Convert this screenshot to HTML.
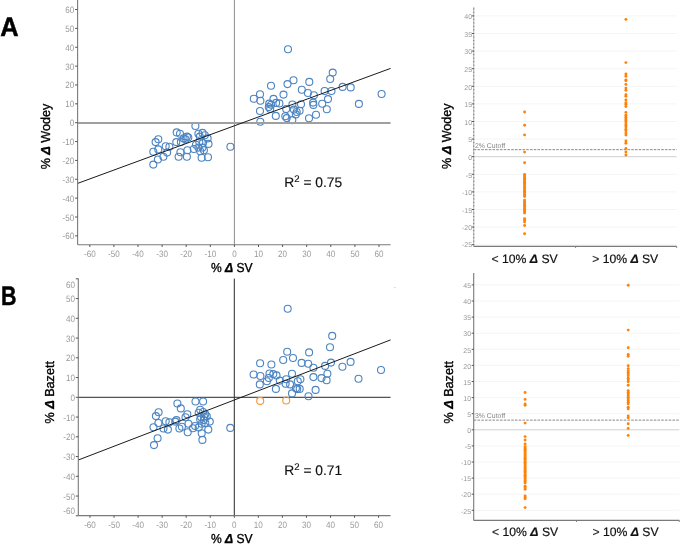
<!DOCTYPE html>
<html><head><meta charset="utf-8"><title>Figure</title>
<style>
html,body{margin:0;padding:0;background:#fff;}
body{width:681px;height:544px;overflow:hidden;}
svg{display:block;font-family:"Liberation Sans", sans-serif;will-change:transform;text-rendering:geometricPrecision;}
.tl{font-size:9.2px;fill:#999999;}
.st{font-size:7px;fill:#999999;}
.cut{font-size:6.9px;fill:#858585;}
.r2{font-size:13.8px;fill:#111;stroke:#111;stroke-width:0.15px;}
.lab{font-size:13px;fill:#000;stroke:#000;stroke-width:0.35px;}
.cat{font-size:12.2px;fill:#111;stroke:#111;stroke-width:0.18px;}
.d{font-weight:bold;font-style:italic;}
.big{font-size:26.8px;font-weight:bold;fill:#000;stroke:#000;stroke-width:0.5px;}
</style></head><body>
<svg width="681" height="544" viewBox="0 0 681 544">
<rect width="681" height="544" fill="#fff"/>
<text transform="translate(0.2,36.0) scale(0.95,1)" class="big">A</text>
<text transform="translate(1.0,305.2) scale(0.8,1)" class="big">B</text>
<line x1="234.4" y1="0" x2="234.4" y2="244.8" stroke="#8c8c8c" stroke-width="1"/>
<circle cx="158.3" cy="139.3" r="3.5" fill="none" stroke="#4c84c2" stroke-width="1.1"/>
<circle cx="155.6" cy="142.1" r="3.5" fill="none" stroke="#4c84c2" stroke-width="1.1"/>
<circle cx="153.3" cy="151.7" r="3.5" fill="none" stroke="#4c84c2" stroke-width="1.1"/>
<circle cx="158.3" cy="149.4" r="3.5" fill="none" stroke="#4c84c2" stroke-width="1.1"/>
<circle cx="165.7" cy="146.2" r="3.5" fill="none" stroke="#4c84c2" stroke-width="1.1"/>
<circle cx="169.4" cy="146.7" r="3.5" fill="none" stroke="#4c84c2" stroke-width="1.1"/>
<circle cx="167.1" cy="152.6" r="3.5" fill="none" stroke="#4c84c2" stroke-width="1.1"/>
<circle cx="163.4" cy="156.8" r="3.5" fill="none" stroke="#4c84c2" stroke-width="1.1"/>
<circle cx="157.9" cy="159.5" r="3.5" fill="none" stroke="#4c84c2" stroke-width="1.1"/>
<circle cx="153.3" cy="164.6" r="3.5" fill="none" stroke="#4c84c2" stroke-width="1.1"/>
<circle cx="176.7" cy="132.4" r="3.5" fill="none" stroke="#4c84c2" stroke-width="1.1"/>
<circle cx="180" cy="133.8" r="3.5" fill="none" stroke="#4c84c2" stroke-width="1.1"/>
<circle cx="176.3" cy="142.1" r="3.5" fill="none" stroke="#4c84c2" stroke-width="1.1"/>
<circle cx="180.4" cy="152.2" r="3.5" fill="none" stroke="#4c84c2" stroke-width="1.1"/>
<circle cx="178.6" cy="156.8" r="3.5" fill="none" stroke="#4c84c2" stroke-width="1.1"/>
<circle cx="183.6" cy="138.4" r="3.5" fill="none" stroke="#4c84c2" stroke-width="1.1"/>
<circle cx="195.4" cy="126" r="3.5" fill="none" stroke="#4c84c2" stroke-width="1.1"/>
<circle cx="186.9" cy="136.6" r="3.5" fill="none" stroke="#4c84c2" stroke-width="1.1"/>
<circle cx="188.3" cy="137.5" r="3.5" fill="none" stroke="#4c84c2" stroke-width="1.1"/>
<circle cx="185.5" cy="139.3" r="3.5" fill="none" stroke="#4c84c2" stroke-width="1.1"/>
<circle cx="180.9" cy="142.1" r="3.5" fill="none" stroke="#4c84c2" stroke-width="1.1"/>
<circle cx="187.4" cy="150.3" r="3.5" fill="none" stroke="#4c84c2" stroke-width="1.1"/>
<circle cx="186.9" cy="156.8" r="3.5" fill="none" stroke="#4c84c2" stroke-width="1.1"/>
<circle cx="193.8" cy="149" r="3.5" fill="none" stroke="#4c84c2" stroke-width="1.1"/>
<circle cx="198.4" cy="133.8" r="3.5" fill="none" stroke="#4c84c2" stroke-width="1.1"/>
<circle cx="202.5" cy="132.9" r="3.5" fill="none" stroke="#4c84c2" stroke-width="1.1"/>
<circle cx="204.8" cy="135.2" r="3.5" fill="none" stroke="#4c84c2" stroke-width="1.1"/>
<circle cx="199.8" cy="136.6" r="3.5" fill="none" stroke="#4c84c2" stroke-width="1.1"/>
<circle cx="207.6" cy="138.4" r="3.5" fill="none" stroke="#4c84c2" stroke-width="1.1"/>
<circle cx="199.3" cy="142.1" r="3.5" fill="none" stroke="#4c84c2" stroke-width="1.1"/>
<circle cx="203" cy="143" r="3.5" fill="none" stroke="#4c84c2" stroke-width="1.1"/>
<circle cx="208.5" cy="143.9" r="3.5" fill="none" stroke="#4c84c2" stroke-width="1.1"/>
<circle cx="198.4" cy="147.6" r="3.5" fill="none" stroke="#4c84c2" stroke-width="1.1"/>
<circle cx="202.5" cy="147.6" r="3.5" fill="none" stroke="#4c84c2" stroke-width="1.1"/>
<circle cx="200.2" cy="151.3" r="3.5" fill="none" stroke="#4c84c2" stroke-width="1.1"/>
<circle cx="203.9" cy="150.3" r="3.5" fill="none" stroke="#4c84c2" stroke-width="1.1"/>
<circle cx="201.6" cy="157.7" r="3.5" fill="none" stroke="#4c84c2" stroke-width="1.1"/>
<circle cx="208" cy="157.2" r="3.5" fill="none" stroke="#4c84c2" stroke-width="1.1"/>
<circle cx="196" cy="144.8" r="3.5" fill="none" stroke="#4c84c2" stroke-width="1.1"/>
<circle cx="230.4" cy="146.8" r="3.5" fill="none" stroke="#4c84c2" stroke-width="1.1"/>
<circle cx="288" cy="49.3" r="3.5" fill="none" stroke="#4c84c2" stroke-width="1.1"/>
<circle cx="332.7" cy="72.6" r="3.5" fill="none" stroke="#4c84c2" stroke-width="1.1"/>
<circle cx="330.2" cy="79" r="3.5" fill="none" stroke="#4c84c2" stroke-width="1.1"/>
<circle cx="293.5" cy="80.3" r="3.5" fill="none" stroke="#4c84c2" stroke-width="1.1"/>
<circle cx="287.5" cy="84.1" r="3.5" fill="none" stroke="#4c84c2" stroke-width="1.1"/>
<circle cx="309.3" cy="81.9" r="3.5" fill="none" stroke="#4c84c2" stroke-width="1.1"/>
<circle cx="271" cy="85.8" r="3.5" fill="none" stroke="#4c84c2" stroke-width="1.1"/>
<circle cx="301.8" cy="89.8" r="3.5" fill="none" stroke="#4c84c2" stroke-width="1.1"/>
<circle cx="307.9" cy="93" r="3.5" fill="none" stroke="#4c84c2" stroke-width="1.1"/>
<circle cx="313.9" cy="95.3" r="3.5" fill="none" stroke="#4c84c2" stroke-width="1.1"/>
<circle cx="324.6" cy="91" r="3.5" fill="none" stroke="#4c84c2" stroke-width="1.1"/>
<circle cx="331.5" cy="91" r="3.5" fill="none" stroke="#4c84c2" stroke-width="1.1"/>
<circle cx="342.6" cy="86.9" r="3.5" fill="none" stroke="#4c84c2" stroke-width="1.1"/>
<circle cx="350.7" cy="87.4" r="3.5" fill="none" stroke="#4c84c2" stroke-width="1.1"/>
<circle cx="381.6" cy="94" r="3.5" fill="none" stroke="#4c84c2" stroke-width="1.1"/>
<circle cx="358.9" cy="103.9" r="3.5" fill="none" stroke="#4c84c2" stroke-width="1.1"/>
<circle cx="260" cy="94.2" r="3.5" fill="none" stroke="#4c84c2" stroke-width="1.1"/>
<circle cx="253.8" cy="98.8" r="3.5" fill="none" stroke="#4c84c2" stroke-width="1.1"/>
<circle cx="260.4" cy="100.8" r="3.5" fill="none" stroke="#4c84c2" stroke-width="1.1"/>
<circle cx="283.5" cy="94.6" r="3.5" fill="none" stroke="#4c84c2" stroke-width="1.1"/>
<circle cx="273.5" cy="98.9" r="3.5" fill="none" stroke="#4c84c2" stroke-width="1.1"/>
<circle cx="269.2" cy="103.6" r="3.5" fill="none" stroke="#4c84c2" stroke-width="1.1"/>
<circle cx="271.1" cy="104.8" r="3.5" fill="none" stroke="#4c84c2" stroke-width="1.1"/>
<circle cx="268.8" cy="107.1" r="3.5" fill="none" stroke="#4c84c2" stroke-width="1.1"/>
<circle cx="270.2" cy="108.9" r="3.5" fill="none" stroke="#4c84c2" stroke-width="1.1"/>
<circle cx="276.1" cy="102.9" r="3.5" fill="none" stroke="#4c84c2" stroke-width="1.1"/>
<circle cx="279.4" cy="103.4" r="3.5" fill="none" stroke="#4c84c2" stroke-width="1.1"/>
<circle cx="260" cy="111" r="3.5" fill="none" stroke="#4c84c2" stroke-width="1.1"/>
<circle cx="275.8" cy="115.9" r="3.5" fill="none" stroke="#4c84c2" stroke-width="1.1"/>
<circle cx="260.3" cy="121.8" r="3.5" fill="none" stroke="#4c84c2" stroke-width="1.1"/>
<circle cx="286.2" cy="109.1" r="3.5" fill="none" stroke="#4c84c2" stroke-width="1.1"/>
<circle cx="293.9" cy="109.6" r="3.5" fill="none" stroke="#4c84c2" stroke-width="1.1"/>
<circle cx="292.4" cy="104.5" r="3.5" fill="none" stroke="#4c84c2" stroke-width="1.1"/>
<circle cx="301" cy="104.3" r="3.5" fill="none" stroke="#4c84c2" stroke-width="1.1"/>
<circle cx="299.6" cy="110.7" r="3.5" fill="none" stroke="#4c84c2" stroke-width="1.1"/>
<circle cx="296.7" cy="112" r="3.5" fill="none" stroke="#4c84c2" stroke-width="1.1"/>
<circle cx="285.3" cy="116.3" r="3.5" fill="none" stroke="#4c84c2" stroke-width="1.1"/>
<circle cx="286.7" cy="118.1" r="3.5" fill="none" stroke="#4c84c2" stroke-width="1.1"/>
<circle cx="292.3" cy="120.1" r="3.5" fill="none" stroke="#4c84c2" stroke-width="1.1"/>
<circle cx="295.8" cy="114.4" r="3.5" fill="none" stroke="#4c84c2" stroke-width="1.1"/>
<circle cx="313.1" cy="102.6" r="3.5" fill="none" stroke="#4c84c2" stroke-width="1.1"/>
<circle cx="313.4" cy="104.9" r="3.5" fill="none" stroke="#4c84c2" stroke-width="1.1"/>
<circle cx="322.2" cy="103.7" r="3.5" fill="none" stroke="#4c84c2" stroke-width="1.1"/>
<circle cx="328" cy="99.1" r="3.5" fill="none" stroke="#4c84c2" stroke-width="1.1"/>
<circle cx="326.8" cy="109.2" r="3.5" fill="none" stroke="#4c84c2" stroke-width="1.1"/>
<circle cx="316" cy="114.7" r="3.5" fill="none" stroke="#4c84c2" stroke-width="1.1"/>
<circle cx="309" cy="118.3" r="3.5" fill="none" stroke="#4c84c2" stroke-width="1.1"/>
<line x1="77.6" y1="122.95" x2="390.6" y2="122.95" stroke="#a0a0a0" stroke-width="2"/>
<line x1="77.6" y1="183.4" x2="390.6" y2="68.4" stroke="#1a1a1a" stroke-width="1"/>
<line x1="77.6" y1="0" x2="77.6" y2="244.8" stroke="#7a7a7a" stroke-width="1.1"/>
<line x1="77.6" y1="244.8" x2="390.6" y2="244.8" stroke="#7a7a7a" stroke-width="1.1"/>
<line x1="75.1" y1="235.86" x2="77.6" y2="235.86" stroke="#555" stroke-width="1"/>
<text transform="translate(74.3,239.36) scale(0.88,1)" text-anchor="end" class="tl">-60</text>
<line x1="75.1" y1="217" x2="77.6" y2="217" stroke="#555" stroke-width="1"/>
<text transform="translate(74.3,220.5) scale(0.88,1)" text-anchor="end" class="tl">-50</text>
<line x1="75.1" y1="198.14" x2="77.6" y2="198.14" stroke="#555" stroke-width="1"/>
<text transform="translate(74.3,201.64) scale(0.88,1)" text-anchor="end" class="tl">-40</text>
<line x1="75.1" y1="179.28" x2="77.6" y2="179.28" stroke="#555" stroke-width="1"/>
<text transform="translate(74.3,182.78) scale(0.88,1)" text-anchor="end" class="tl">-30</text>
<line x1="75.1" y1="160.42" x2="77.6" y2="160.42" stroke="#555" stroke-width="1"/>
<text transform="translate(74.3,163.92) scale(0.88,1)" text-anchor="end" class="tl">-20</text>
<line x1="75.1" y1="141.56" x2="77.6" y2="141.56" stroke="#555" stroke-width="1"/>
<text transform="translate(74.3,145.06) scale(0.88,1)" text-anchor="end" class="tl">-10</text>
<line x1="75.1" y1="122.7" x2="77.6" y2="122.7" stroke="#555" stroke-width="1"/>
<text transform="translate(74.3,126.2) scale(0.88,1)" text-anchor="end" class="tl">0</text>
<line x1="75.1" y1="103.84" x2="77.6" y2="103.84" stroke="#555" stroke-width="1"/>
<text transform="translate(74.3,107.34) scale(0.88,1)" text-anchor="end" class="tl">10</text>
<line x1="75.1" y1="84.98" x2="77.6" y2="84.98" stroke="#555" stroke-width="1"/>
<text transform="translate(74.3,88.48) scale(0.88,1)" text-anchor="end" class="tl">20</text>
<line x1="75.1" y1="66.12" x2="77.6" y2="66.12" stroke="#555" stroke-width="1"/>
<text transform="translate(74.3,69.62) scale(0.88,1)" text-anchor="end" class="tl">30</text>
<line x1="75.1" y1="47.26" x2="77.6" y2="47.26" stroke="#555" stroke-width="1"/>
<text transform="translate(74.3,50.76) scale(0.88,1)" text-anchor="end" class="tl">40</text>
<line x1="75.1" y1="28.4" x2="77.6" y2="28.4" stroke="#555" stroke-width="1"/>
<text transform="translate(74.3,31.9) scale(0.88,1)" text-anchor="end" class="tl">50</text>
<line x1="75.1" y1="9.54" x2="77.6" y2="9.54" stroke="#555" stroke-width="1"/>
<text transform="translate(74.3,13.04) scale(0.88,1)" text-anchor="end" class="tl">60</text>
<line x1="89.8" y1="244.8" x2="89.8" y2="247.0" stroke="#555" stroke-width="1"/>
<text transform="translate(89.8,257) scale(0.88,1)" text-anchor="middle" class="tl">-60</text>
<line x1="113.9" y1="244.8" x2="113.9" y2="247.0" stroke="#555" stroke-width="1"/>
<text transform="translate(113.9,257) scale(0.88,1)" text-anchor="middle" class="tl">-50</text>
<line x1="138" y1="244.8" x2="138" y2="247.0" stroke="#555" stroke-width="1"/>
<text transform="translate(138,257) scale(0.88,1)" text-anchor="middle" class="tl">-40</text>
<line x1="162.1" y1="244.8" x2="162.1" y2="247.0" stroke="#555" stroke-width="1"/>
<text transform="translate(162.1,257) scale(0.88,1)" text-anchor="middle" class="tl">-30</text>
<line x1="186.2" y1="244.8" x2="186.2" y2="247.0" stroke="#555" stroke-width="1"/>
<text transform="translate(186.2,257) scale(0.88,1)" text-anchor="middle" class="tl">-20</text>
<line x1="210.3" y1="244.8" x2="210.3" y2="247.0" stroke="#555" stroke-width="1"/>
<text transform="translate(210.3,257) scale(0.88,1)" text-anchor="middle" class="tl">-10</text>
<line x1="234.4" y1="244.8" x2="234.4" y2="247.0" stroke="#555" stroke-width="1"/>
<text transform="translate(234.4,257) scale(0.88,1)" text-anchor="middle" class="tl">0</text>
<line x1="258.5" y1="244.8" x2="258.5" y2="247.0" stroke="#555" stroke-width="1"/>
<text transform="translate(258.5,257) scale(0.88,1)" text-anchor="middle" class="tl">10</text>
<line x1="282.6" y1="244.8" x2="282.6" y2="247.0" stroke="#555" stroke-width="1"/>
<text transform="translate(282.6,257) scale(0.88,1)" text-anchor="middle" class="tl">20</text>
<line x1="306.7" y1="244.8" x2="306.7" y2="247.0" stroke="#555" stroke-width="1"/>
<text transform="translate(306.7,257) scale(0.88,1)" text-anchor="middle" class="tl">30</text>
<line x1="330.8" y1="244.8" x2="330.8" y2="247.0" stroke="#555" stroke-width="1"/>
<text transform="translate(330.8,257) scale(0.88,1)" text-anchor="middle" class="tl">40</text>
<line x1="354.9" y1="244.8" x2="354.9" y2="247.0" stroke="#555" stroke-width="1"/>
<text transform="translate(354.9,257) scale(0.88,1)" text-anchor="middle" class="tl">50</text>
<line x1="379" y1="244.8" x2="379" y2="247.0" stroke="#555" stroke-width="1"/>
<text transform="translate(379,257) scale(0.88,1)" text-anchor="middle" class="tl">60</text>
<text x="284.3" y="186.8" class="r2">R<tspan font-size="9.6" dy="-5.2">2</tspan><tspan dy="5.2"> = 0.75</tspan></text>
<text transform="translate(231.8,271.6) scale(0.93,1)" text-anchor="middle" class="lab">% <tspan class="d">&#916;</tspan> SV</text>
<text transform="translate(50.3,136.5) rotate(-90) scale(0.97,1)" text-anchor="middle" class="lab">% <tspan class="d">&#916;</tspan> Wodey</text>
<line x1="78.3" y1="397.3" x2="390.6" y2="397.3" stroke="#2a2a2a" stroke-width="1"/>
<line x1="234.3" y1="278.6" x2="234.3" y2="515.6" stroke="#2a2a2a" stroke-width="1"/>
<circle cx="177.4" cy="403.5" r="3.5" fill="none" stroke="#4c84c2" stroke-width="1.1"/>
<circle cx="180.8" cy="408.4" r="3.5" fill="none" stroke="#4c84c2" stroke-width="1.1"/>
<circle cx="195.5" cy="401.5" r="3.5" fill="none" stroke="#4c84c2" stroke-width="1.1"/>
<circle cx="203.1" cy="401.5" r="3.5" fill="none" stroke="#4c84c2" stroke-width="1.1"/>
<circle cx="158.6" cy="412.3" r="3.5" fill="none" stroke="#4c84c2" stroke-width="1.1"/>
<circle cx="155.9" cy="416.1" r="3.5" fill="none" stroke="#4c84c2" stroke-width="1.1"/>
<circle cx="153.5" cy="427.2" r="3.5" fill="none" stroke="#4c84c2" stroke-width="1.1"/>
<circle cx="158.4" cy="423" r="3.5" fill="none" stroke="#4c84c2" stroke-width="1.1"/>
<circle cx="165.7" cy="421.3" r="3.5" fill="none" stroke="#4c84c2" stroke-width="1.1"/>
<circle cx="169.4" cy="422.3" r="3.5" fill="none" stroke="#4c84c2" stroke-width="1.1"/>
<circle cx="163.5" cy="428.5" r="3.5" fill="none" stroke="#4c84c2" stroke-width="1.1"/>
<circle cx="167.9" cy="429.6" r="3.5" fill="none" stroke="#4c84c2" stroke-width="1.1"/>
<circle cx="176.4" cy="420.1" r="3.5" fill="none" stroke="#4c84c2" stroke-width="1.1"/>
<circle cx="179.4" cy="428.5" r="3.5" fill="none" stroke="#4c84c2" stroke-width="1.1"/>
<circle cx="187.3" cy="414.2" r="3.5" fill="none" stroke="#4c84c2" stroke-width="1.1"/>
<circle cx="185.5" cy="417.2" r="3.5" fill="none" stroke="#4c84c2" stroke-width="1.1"/>
<circle cx="188.5" cy="423.8" r="3.5" fill="none" stroke="#4c84c2" stroke-width="1.1"/>
<circle cx="187.7" cy="432.3" r="3.5" fill="none" stroke="#4c84c2" stroke-width="1.1"/>
<circle cx="195.1" cy="426" r="3.5" fill="none" stroke="#4c84c2" stroke-width="1.1"/>
<circle cx="198.7" cy="427.4" r="3.5" fill="none" stroke="#4c84c2" stroke-width="1.1"/>
<circle cx="200.2" cy="409.8" r="3.5" fill="none" stroke="#4c84c2" stroke-width="1.1"/>
<circle cx="198.7" cy="412.8" r="3.5" fill="none" stroke="#4c84c2" stroke-width="1.1"/>
<circle cx="203.1" cy="412" r="3.5" fill="none" stroke="#4c84c2" stroke-width="1.1"/>
<circle cx="205.3" cy="414.2" r="3.5" fill="none" stroke="#4c84c2" stroke-width="1.1"/>
<circle cx="200.2" cy="419.4" r="3.5" fill="none" stroke="#4c84c2" stroke-width="1.1"/>
<circle cx="203.9" cy="420.1" r="3.5" fill="none" stroke="#4c84c2" stroke-width="1.1"/>
<circle cx="206.8" cy="416.4" r="3.5" fill="none" stroke="#4c84c2" stroke-width="1.1"/>
<circle cx="209.8" cy="421.6" r="3.5" fill="none" stroke="#4c84c2" stroke-width="1.1"/>
<circle cx="201.7" cy="423.8" r="3.5" fill="none" stroke="#4c84c2" stroke-width="1.1"/>
<circle cx="205.3" cy="423" r="3.5" fill="none" stroke="#4c84c2" stroke-width="1.1"/>
<circle cx="208.3" cy="429.6" r="3.5" fill="none" stroke="#4c84c2" stroke-width="1.1"/>
<circle cx="201.7" cy="433.3" r="3.5" fill="none" stroke="#4c84c2" stroke-width="1.1"/>
<circle cx="202.4" cy="439.9" r="3.5" fill="none" stroke="#4c84c2" stroke-width="1.1"/>
<circle cx="230.3" cy="427.9" r="3.5" fill="none" stroke="#4c84c2" stroke-width="1.1"/>
<circle cx="157.6" cy="438.2" r="3.5" fill="none" stroke="#4c84c2" stroke-width="1.1"/>
<circle cx="154" cy="445.1" r="3.5" fill="none" stroke="#4c84c2" stroke-width="1.1"/>
<circle cx="175.2" cy="421.6" r="3.5" fill="none" stroke="#4c84c2" stroke-width="1.1"/>
<circle cx="181.9" cy="426.7" r="3.5" fill="none" stroke="#4c84c2" stroke-width="1.1"/>
<circle cx="192.9" cy="428.2" r="3.5" fill="none" stroke="#4c84c2" stroke-width="1.1"/>
<circle cx="201" cy="417" r="3.5" fill="none" stroke="#4c84c2" stroke-width="1.1"/>
<circle cx="204" cy="416.5" r="3.5" fill="none" stroke="#4c84c2" stroke-width="1.1"/>
<circle cx="287.7" cy="308.8" r="3.5" fill="none" stroke="#4c84c2" stroke-width="1.1"/>
<circle cx="287.2" cy="351.8" r="3.5" fill="none" stroke="#4c84c2" stroke-width="1.1"/>
<circle cx="293" cy="358" r="3.5" fill="none" stroke="#4c84c2" stroke-width="1.1"/>
<circle cx="283.2" cy="360" r="3.5" fill="none" stroke="#4c84c2" stroke-width="1.1"/>
<circle cx="301.6" cy="362.9" r="3.5" fill="none" stroke="#4c84c2" stroke-width="1.1"/>
<circle cx="260.1" cy="363.2" r="3.5" fill="none" stroke="#4c84c2" stroke-width="1.1"/>
<circle cx="271.4" cy="364.5" r="3.5" fill="none" stroke="#4c84c2" stroke-width="1.1"/>
<circle cx="253.6" cy="374.5" r="3.5" fill="none" stroke="#4c84c2" stroke-width="1.1"/>
<circle cx="260.4" cy="376" r="3.5" fill="none" stroke="#4c84c2" stroke-width="1.1"/>
<circle cx="269.5" cy="373.5" r="3.5" fill="none" stroke="#4c84c2" stroke-width="1.1"/>
<circle cx="273.3" cy="374.1" r="3.5" fill="none" stroke="#4c84c2" stroke-width="1.1"/>
<circle cx="276.5" cy="375.4" r="3.5" fill="none" stroke="#4c84c2" stroke-width="1.1"/>
<circle cx="268.8" cy="378" r="3.5" fill="none" stroke="#4c84c2" stroke-width="1.1"/>
<circle cx="266.9" cy="381.2" r="3.5" fill="none" stroke="#4c84c2" stroke-width="1.1"/>
<circle cx="259.8" cy="384.4" r="3.5" fill="none" stroke="#4c84c2" stroke-width="1.1"/>
<circle cx="279.8" cy="380.6" r="3.5" fill="none" stroke="#4c84c2" stroke-width="1.1"/>
<circle cx="286.2" cy="379.3" r="3.5" fill="none" stroke="#4c84c2" stroke-width="1.1"/>
<circle cx="285.6" cy="383.8" r="3.5" fill="none" stroke="#4c84c2" stroke-width="1.1"/>
<circle cx="292" cy="373.7" r="3.5" fill="none" stroke="#4c84c2" stroke-width="1.1"/>
<circle cx="290.1" cy="384.4" r="3.5" fill="none" stroke="#4c84c2" stroke-width="1.1"/>
<circle cx="275.9" cy="388.9" r="3.5" fill="none" stroke="#4c84c2" stroke-width="1.1"/>
<circle cx="297.8" cy="381.2" r="3.5" fill="none" stroke="#4c84c2" stroke-width="1.1"/>
<circle cx="300.4" cy="379.3" r="3.5" fill="none" stroke="#4c84c2" stroke-width="1.1"/>
<circle cx="295.9" cy="388.3" r="3.5" fill="none" stroke="#4c84c2" stroke-width="1.1"/>
<circle cx="299.7" cy="388.9" r="3.5" fill="none" stroke="#4c84c2" stroke-width="1.1"/>
<circle cx="292" cy="393.4" r="3.5" fill="none" stroke="#4c84c2" stroke-width="1.1"/>
<circle cx="332.2" cy="335.9" r="3.5" fill="none" stroke="#4c84c2" stroke-width="1.1"/>
<circle cx="330" cy="347.2" r="3.5" fill="none" stroke="#4c84c2" stroke-width="1.1"/>
<circle cx="309.1" cy="352.4" r="3.5" fill="none" stroke="#4c84c2" stroke-width="1.1"/>
<circle cx="308.2" cy="363.7" r="3.5" fill="none" stroke="#4c84c2" stroke-width="1.1"/>
<circle cx="313.4" cy="367.8" r="3.5" fill="none" stroke="#4c84c2" stroke-width="1.1"/>
<circle cx="325.1" cy="365.9" r="3.5" fill="none" stroke="#4c84c2" stroke-width="1.1"/>
<circle cx="331" cy="362.6" r="3.5" fill="none" stroke="#4c84c2" stroke-width="1.1"/>
<circle cx="342.4" cy="366.8" r="3.5" fill="none" stroke="#4c84c2" stroke-width="1.1"/>
<circle cx="350.6" cy="361.9" r="3.5" fill="none" stroke="#4c84c2" stroke-width="1.1"/>
<circle cx="381" cy="370" r="3.5" fill="none" stroke="#4c84c2" stroke-width="1.1"/>
<circle cx="327.4" cy="373.7" r="3.5" fill="none" stroke="#4c84c2" stroke-width="1.1"/>
<circle cx="321.5" cy="378.1" r="3.5" fill="none" stroke="#4c84c2" stroke-width="1.1"/>
<circle cx="326.6" cy="380.3" r="3.5" fill="none" stroke="#4c84c2" stroke-width="1.1"/>
<circle cx="313.4" cy="377.1" r="3.5" fill="none" stroke="#4c84c2" stroke-width="1.1"/>
<circle cx="358.5" cy="378.8" r="3.5" fill="none" stroke="#4c84c2" stroke-width="1.1"/>
<circle cx="315.6" cy="389.9" r="3.5" fill="none" stroke="#4c84c2" stroke-width="1.1"/>
<circle cx="308.5" cy="396.2" r="3.5" fill="none" stroke="#4c84c2" stroke-width="1.1"/>
<circle cx="297.2" cy="389.1" r="3.5" fill="none" stroke="#4c84c2" stroke-width="1.1"/>
<circle cx="260.2" cy="400.9" r="3.5" fill="none" stroke="#f5963a" stroke-width="1.1"/>
<circle cx="286.2" cy="400.5" r="3.5" fill="none" stroke="#f5963a" stroke-width="1.1"/>
<line x1="78.3" y1="460.0" x2="390.6" y2="339.9" stroke="#1a1a1a" stroke-width="1"/>
<line x1="78.3" y1="278.6" x2="78.3" y2="515.6" stroke="#7a7a7a" stroke-width="1.1"/>
<line x1="78.3" y1="515.6" x2="390.6" y2="515.6" stroke="#7a7a7a" stroke-width="1.1"/>
<line x1="75.8" y1="515.8" x2="78.3" y2="515.8" stroke="#555" stroke-width="1"/>
<text transform="translate(75,514.3) scale(0.88,1)" text-anchor="end" class="tl">-60</text>
<line x1="75.8" y1="496.05" x2="78.3" y2="496.05" stroke="#555" stroke-width="1"/>
<text transform="translate(75,499.55) scale(0.88,1)" text-anchor="end" class="tl">-50</text>
<line x1="75.8" y1="476.3" x2="78.3" y2="476.3" stroke="#555" stroke-width="1"/>
<text transform="translate(75,479.8) scale(0.88,1)" text-anchor="end" class="tl">-40</text>
<line x1="75.8" y1="456.55" x2="78.3" y2="456.55" stroke="#555" stroke-width="1"/>
<text transform="translate(75,460.05) scale(0.88,1)" text-anchor="end" class="tl">-30</text>
<line x1="75.8" y1="436.8" x2="78.3" y2="436.8" stroke="#555" stroke-width="1"/>
<text transform="translate(75,440.3) scale(0.88,1)" text-anchor="end" class="tl">-20</text>
<line x1="75.8" y1="417.05" x2="78.3" y2="417.05" stroke="#555" stroke-width="1"/>
<text transform="translate(75,420.55) scale(0.88,1)" text-anchor="end" class="tl">-10</text>
<line x1="75.8" y1="397.3" x2="78.3" y2="397.3" stroke="#555" stroke-width="1"/>
<text transform="translate(75,400.8) scale(0.88,1)" text-anchor="end" class="tl">0</text>
<line x1="75.8" y1="377.55" x2="78.3" y2="377.55" stroke="#555" stroke-width="1"/>
<text transform="translate(75,381.05) scale(0.88,1)" text-anchor="end" class="tl">10</text>
<line x1="75.8" y1="357.8" x2="78.3" y2="357.8" stroke="#555" stroke-width="1"/>
<text transform="translate(75,361.3) scale(0.88,1)" text-anchor="end" class="tl">20</text>
<line x1="75.8" y1="338.05" x2="78.3" y2="338.05" stroke="#555" stroke-width="1"/>
<text transform="translate(75,341.55) scale(0.88,1)" text-anchor="end" class="tl">30</text>
<line x1="75.8" y1="318.3" x2="78.3" y2="318.3" stroke="#555" stroke-width="1"/>
<text transform="translate(75,321.8) scale(0.88,1)" text-anchor="end" class="tl">40</text>
<line x1="75.8" y1="298.55" x2="78.3" y2="298.55" stroke="#555" stroke-width="1"/>
<text transform="translate(75,302.05) scale(0.88,1)" text-anchor="end" class="tl">50</text>
<line x1="75.8" y1="278.8" x2="78.3" y2="278.8" stroke="#555" stroke-width="1"/>
<text transform="translate(75,288.2) scale(0.88,1)" text-anchor="end" class="tl">60</text>
<line x1="90" y1="515.6" x2="90" y2="517.8000000000001" stroke="#555" stroke-width="1"/>
<text transform="translate(90,527.6) scale(0.88,1)" text-anchor="middle" class="tl">-60</text>
<line x1="114.05" y1="515.6" x2="114.05" y2="517.8000000000001" stroke="#555" stroke-width="1"/>
<text transform="translate(114.05,527.6) scale(0.88,1)" text-anchor="middle" class="tl">-50</text>
<line x1="138.1" y1="515.6" x2="138.1" y2="517.8000000000001" stroke="#555" stroke-width="1"/>
<text transform="translate(138.1,527.6) scale(0.88,1)" text-anchor="middle" class="tl">-40</text>
<line x1="162.15" y1="515.6" x2="162.15" y2="517.8000000000001" stroke="#555" stroke-width="1"/>
<text transform="translate(162.15,527.6) scale(0.88,1)" text-anchor="middle" class="tl">-30</text>
<line x1="186.2" y1="515.6" x2="186.2" y2="517.8000000000001" stroke="#555" stroke-width="1"/>
<text transform="translate(186.2,527.6) scale(0.88,1)" text-anchor="middle" class="tl">-20</text>
<line x1="210.25" y1="515.6" x2="210.25" y2="517.8000000000001" stroke="#555" stroke-width="1"/>
<text transform="translate(210.25,527.6) scale(0.88,1)" text-anchor="middle" class="tl">-10</text>
<line x1="234.3" y1="515.6" x2="234.3" y2="517.8000000000001" stroke="#555" stroke-width="1"/>
<text transform="translate(234.3,527.6) scale(0.88,1)" text-anchor="middle" class="tl">0</text>
<line x1="258.35" y1="515.6" x2="258.35" y2="517.8000000000001" stroke="#555" stroke-width="1"/>
<text transform="translate(258.35,527.6) scale(0.88,1)" text-anchor="middle" class="tl">10</text>
<line x1="282.4" y1="515.6" x2="282.4" y2="517.8000000000001" stroke="#555" stroke-width="1"/>
<text transform="translate(282.4,527.6) scale(0.88,1)" text-anchor="middle" class="tl">20</text>
<line x1="306.45" y1="515.6" x2="306.45" y2="517.8000000000001" stroke="#555" stroke-width="1"/>
<text transform="translate(306.45,527.6) scale(0.88,1)" text-anchor="middle" class="tl">30</text>
<line x1="330.5" y1="515.6" x2="330.5" y2="517.8000000000001" stroke="#555" stroke-width="1"/>
<text transform="translate(330.5,527.6) scale(0.88,1)" text-anchor="middle" class="tl">40</text>
<line x1="354.55" y1="515.6" x2="354.55" y2="517.8000000000001" stroke="#555" stroke-width="1"/>
<text transform="translate(354.55,527.6) scale(0.88,1)" text-anchor="middle" class="tl">50</text>
<line x1="378.6" y1="515.6" x2="378.6" y2="517.8000000000001" stroke="#555" stroke-width="1"/>
<text transform="translate(378.6,527.6) scale(0.88,1)" text-anchor="middle" class="tl">60</text>
<text x="284.3" y="475.1" class="r2">R<tspan font-size="9.6" dy="-5.2">2</tspan><tspan dy="5.2"> = 0.71</tspan></text>
<text transform="translate(231.8,542.7) scale(0.93,1)" text-anchor="middle" class="lab">% <tspan class="d">&#916;</tspan> SV</text>
<text transform="translate(53.6,392.3) rotate(-90) scale(0.97,1)" text-anchor="middle" class="lab">% <tspan class="d">&#916;</tspan> Bazett</text>
<line x1="473.7" y1="244.7" x2="676.7" y2="244.7" stroke="#f5f5f5" stroke-width="1"/>
<line x1="473.7" y1="227.1" x2="676.7" y2="227.1" stroke="#f5f5f5" stroke-width="1"/>
<line x1="473.7" y1="209.5" x2="676.7" y2="209.5" stroke="#f5f5f5" stroke-width="1"/>
<line x1="473.7" y1="191.9" x2="676.7" y2="191.9" stroke="#f5f5f5" stroke-width="1"/>
<line x1="473.7" y1="174.3" x2="676.7" y2="174.3" stroke="#f5f5f5" stroke-width="1"/>
<line x1="473.7" y1="156.7" x2="676.7" y2="156.7" stroke="#d0d0d0" stroke-width="1"/>
<line x1="473.7" y1="139.1" x2="676.7" y2="139.1" stroke="#f5f5f5" stroke-width="1"/>
<line x1="473.7" y1="121.5" x2="676.7" y2="121.5" stroke="#f5f5f5" stroke-width="1"/>
<line x1="473.7" y1="103.9" x2="676.7" y2="103.9" stroke="#f5f5f5" stroke-width="1"/>
<line x1="473.7" y1="86.3" x2="676.7" y2="86.3" stroke="#f5f5f5" stroke-width="1"/>
<line x1="473.7" y1="68.7" x2="676.7" y2="68.7" stroke="#f5f5f5" stroke-width="1"/>
<line x1="473.7" y1="51.1" x2="676.7" y2="51.1" stroke="#f5f5f5" stroke-width="1"/>
<line x1="473.7" y1="33.5" x2="676.7" y2="33.5" stroke="#f5f5f5" stroke-width="1"/>
<line x1="473.7" y1="15.9" x2="676.7" y2="15.9" stroke="#f5f5f5" stroke-width="1"/>
<line x1="473.7" y1="149.66" x2="676.7" y2="149.66" stroke="#8a8a8a" stroke-width="1" stroke-dasharray="2.6,1.15"/>
<text x="475.0" y="147.56" class="cut">2% Cutoff</text>
<line x1="473.7" y1="7" x2="473.7" y2="246.4" stroke="#c4c4c4" stroke-width="1.3"/>
<line x1="473.09999999999997" y1="244.7" x2="474.3" y2="244.7" stroke="#666" stroke-width="0.8"/>
<line x1="473.09999999999997" y1="241.18" x2="474.3" y2="241.18" stroke="#666" stroke-width="0.8"/>
<line x1="473.09999999999997" y1="237.66" x2="474.3" y2="237.66" stroke="#666" stroke-width="0.8"/>
<line x1="473.09999999999997" y1="234.14" x2="474.3" y2="234.14" stroke="#666" stroke-width="0.8"/>
<line x1="473.09999999999997" y1="230.62" x2="474.3" y2="230.62" stroke="#666" stroke-width="0.8"/>
<line x1="473.09999999999997" y1="227.1" x2="474.3" y2="227.1" stroke="#666" stroke-width="0.8"/>
<line x1="473.09999999999997" y1="223.58" x2="474.3" y2="223.58" stroke="#666" stroke-width="0.8"/>
<line x1="473.09999999999997" y1="220.06" x2="474.3" y2="220.06" stroke="#666" stroke-width="0.8"/>
<line x1="473.09999999999997" y1="216.54" x2="474.3" y2="216.54" stroke="#666" stroke-width="0.8"/>
<line x1="473.09999999999997" y1="213.02" x2="474.3" y2="213.02" stroke="#666" stroke-width="0.8"/>
<line x1="473.09999999999997" y1="209.5" x2="474.3" y2="209.5" stroke="#666" stroke-width="0.8"/>
<line x1="473.09999999999997" y1="205.98" x2="474.3" y2="205.98" stroke="#666" stroke-width="0.8"/>
<line x1="473.09999999999997" y1="202.46" x2="474.3" y2="202.46" stroke="#666" stroke-width="0.8"/>
<line x1="473.09999999999997" y1="198.94" x2="474.3" y2="198.94" stroke="#666" stroke-width="0.8"/>
<line x1="473.09999999999997" y1="195.42" x2="474.3" y2="195.42" stroke="#666" stroke-width="0.8"/>
<line x1="473.09999999999997" y1="191.9" x2="474.3" y2="191.9" stroke="#666" stroke-width="0.8"/>
<line x1="473.09999999999997" y1="188.38" x2="474.3" y2="188.38" stroke="#666" stroke-width="0.8"/>
<line x1="473.09999999999997" y1="184.86" x2="474.3" y2="184.86" stroke="#666" stroke-width="0.8"/>
<line x1="473.09999999999997" y1="181.34" x2="474.3" y2="181.34" stroke="#666" stroke-width="0.8"/>
<line x1="473.09999999999997" y1="177.82" x2="474.3" y2="177.82" stroke="#666" stroke-width="0.8"/>
<line x1="473.09999999999997" y1="174.3" x2="474.3" y2="174.3" stroke="#666" stroke-width="0.8"/>
<line x1="473.09999999999997" y1="170.78" x2="474.3" y2="170.78" stroke="#666" stroke-width="0.8"/>
<line x1="473.09999999999997" y1="167.26" x2="474.3" y2="167.26" stroke="#666" stroke-width="0.8"/>
<line x1="473.09999999999997" y1="163.74" x2="474.3" y2="163.74" stroke="#666" stroke-width="0.8"/>
<line x1="473.09999999999997" y1="160.22" x2="474.3" y2="160.22" stroke="#666" stroke-width="0.8"/>
<line x1="473.09999999999997" y1="156.7" x2="474.3" y2="156.7" stroke="#666" stroke-width="0.8"/>
<line x1="473.09999999999997" y1="153.18" x2="474.3" y2="153.18" stroke="#666" stroke-width="0.8"/>
<line x1="473.09999999999997" y1="149.66" x2="474.3" y2="149.66" stroke="#666" stroke-width="0.8"/>
<line x1="473.09999999999997" y1="146.14" x2="474.3" y2="146.14" stroke="#666" stroke-width="0.8"/>
<line x1="473.09999999999997" y1="142.62" x2="474.3" y2="142.62" stroke="#666" stroke-width="0.8"/>
<line x1="473.09999999999997" y1="139.1" x2="474.3" y2="139.1" stroke="#666" stroke-width="0.8"/>
<line x1="473.09999999999997" y1="135.58" x2="474.3" y2="135.58" stroke="#666" stroke-width="0.8"/>
<line x1="473.09999999999997" y1="132.06" x2="474.3" y2="132.06" stroke="#666" stroke-width="0.8"/>
<line x1="473.09999999999997" y1="128.54" x2="474.3" y2="128.54" stroke="#666" stroke-width="0.8"/>
<line x1="473.09999999999997" y1="125.02" x2="474.3" y2="125.02" stroke="#666" stroke-width="0.8"/>
<line x1="473.09999999999997" y1="121.5" x2="474.3" y2="121.5" stroke="#666" stroke-width="0.8"/>
<line x1="473.09999999999997" y1="117.98" x2="474.3" y2="117.98" stroke="#666" stroke-width="0.8"/>
<line x1="473.09999999999997" y1="114.46" x2="474.3" y2="114.46" stroke="#666" stroke-width="0.8"/>
<line x1="473.09999999999997" y1="110.94" x2="474.3" y2="110.94" stroke="#666" stroke-width="0.8"/>
<line x1="473.09999999999997" y1="107.42" x2="474.3" y2="107.42" stroke="#666" stroke-width="0.8"/>
<line x1="473.09999999999997" y1="103.9" x2="474.3" y2="103.9" stroke="#666" stroke-width="0.8"/>
<line x1="473.09999999999997" y1="100.38" x2="474.3" y2="100.38" stroke="#666" stroke-width="0.8"/>
<line x1="473.09999999999997" y1="96.86" x2="474.3" y2="96.86" stroke="#666" stroke-width="0.8"/>
<line x1="473.09999999999997" y1="93.34" x2="474.3" y2="93.34" stroke="#666" stroke-width="0.8"/>
<line x1="473.09999999999997" y1="89.82" x2="474.3" y2="89.82" stroke="#666" stroke-width="0.8"/>
<line x1="473.09999999999997" y1="86.3" x2="474.3" y2="86.3" stroke="#666" stroke-width="0.8"/>
<line x1="473.09999999999997" y1="82.78" x2="474.3" y2="82.78" stroke="#666" stroke-width="0.8"/>
<line x1="473.09999999999997" y1="79.26" x2="474.3" y2="79.26" stroke="#666" stroke-width="0.8"/>
<line x1="473.09999999999997" y1="75.74" x2="474.3" y2="75.74" stroke="#666" stroke-width="0.8"/>
<line x1="473.09999999999997" y1="72.22" x2="474.3" y2="72.22" stroke="#666" stroke-width="0.8"/>
<line x1="473.09999999999997" y1="68.7" x2="474.3" y2="68.7" stroke="#666" stroke-width="0.8"/>
<line x1="473.09999999999997" y1="65.18" x2="474.3" y2="65.18" stroke="#666" stroke-width="0.8"/>
<line x1="473.09999999999997" y1="61.66" x2="474.3" y2="61.66" stroke="#666" stroke-width="0.8"/>
<line x1="473.09999999999997" y1="58.14" x2="474.3" y2="58.14" stroke="#666" stroke-width="0.8"/>
<line x1="473.09999999999997" y1="54.62" x2="474.3" y2="54.62" stroke="#666" stroke-width="0.8"/>
<line x1="473.09999999999997" y1="51.1" x2="474.3" y2="51.1" stroke="#666" stroke-width="0.8"/>
<line x1="473.09999999999997" y1="47.58" x2="474.3" y2="47.58" stroke="#666" stroke-width="0.8"/>
<line x1="473.09999999999997" y1="44.06" x2="474.3" y2="44.06" stroke="#666" stroke-width="0.8"/>
<line x1="473.09999999999997" y1="40.54" x2="474.3" y2="40.54" stroke="#666" stroke-width="0.8"/>
<line x1="473.09999999999997" y1="37.02" x2="474.3" y2="37.02" stroke="#666" stroke-width="0.8"/>
<line x1="473.09999999999997" y1="33.5" x2="474.3" y2="33.5" stroke="#666" stroke-width="0.8"/>
<line x1="473.09999999999997" y1="29.98" x2="474.3" y2="29.98" stroke="#666" stroke-width="0.8"/>
<line x1="473.09999999999997" y1="26.46" x2="474.3" y2="26.46" stroke="#666" stroke-width="0.8"/>
<line x1="473.09999999999997" y1="22.94" x2="474.3" y2="22.94" stroke="#666" stroke-width="0.8"/>
<line x1="473.09999999999997" y1="19.42" x2="474.3" y2="19.42" stroke="#666" stroke-width="0.8"/>
<line x1="473.09999999999997" y1="15.9" x2="474.3" y2="15.9" stroke="#666" stroke-width="0.8"/>
<line x1="473.09999999999997" y1="12.38" x2="474.3" y2="12.38" stroke="#666" stroke-width="0.8"/>
<line x1="473.09999999999997" y1="8.86" x2="474.3" y2="8.86" stroke="#666" stroke-width="0.8"/>
<line x1="473.7" y1="246.4" x2="676.7" y2="246.4" stroke="#7a7a7a" stroke-width="1.1"/>
<line x1="575.6" y1="246.4" x2="575.6" y2="247.9" stroke="#7a7a7a" stroke-width="1"/>
<line x1="676.7" y1="246.4" x2="676.7" y2="247.9" stroke="#7a7a7a" stroke-width="1"/>
<line x1="471.7" y1="244.7" x2="473.7" y2="244.7" stroke="#555" stroke-width="1"/>
<text x="472.09999999999997" y="246.6" text-anchor="end" class="st">-25</text>
<line x1="471.7" y1="227.1" x2="473.7" y2="227.1" stroke="#555" stroke-width="1"/>
<text x="472.09999999999997" y="230.3" text-anchor="end" class="st">-20</text>
<line x1="471.7" y1="209.5" x2="473.7" y2="209.5" stroke="#555" stroke-width="1"/>
<text x="472.09999999999997" y="212.7" text-anchor="end" class="st">-15</text>
<line x1="471.7" y1="191.9" x2="473.7" y2="191.9" stroke="#555" stroke-width="1"/>
<text x="472.09999999999997" y="195.1" text-anchor="end" class="st">-10</text>
<line x1="471.7" y1="174.3" x2="473.7" y2="174.3" stroke="#555" stroke-width="1"/>
<text x="472.09999999999997" y="177.5" text-anchor="end" class="st">-5</text>
<line x1="471.7" y1="156.7" x2="473.7" y2="156.7" stroke="#555" stroke-width="1"/>
<text x="472.09999999999997" y="159.9" text-anchor="end" class="st">0</text>
<line x1="471.7" y1="139.1" x2="473.7" y2="139.1" stroke="#555" stroke-width="1"/>
<text x="472.09999999999997" y="142.3" text-anchor="end" class="st">5</text>
<line x1="471.7" y1="121.5" x2="473.7" y2="121.5" stroke="#555" stroke-width="1"/>
<text x="472.09999999999997" y="124.7" text-anchor="end" class="st">10</text>
<line x1="471.7" y1="103.9" x2="473.7" y2="103.9" stroke="#555" stroke-width="1"/>
<text x="472.09999999999997" y="107.1" text-anchor="end" class="st">15</text>
<line x1="471.7" y1="86.3" x2="473.7" y2="86.3" stroke="#555" stroke-width="1"/>
<text x="472.09999999999997" y="89.5" text-anchor="end" class="st">20</text>
<line x1="471.7" y1="68.7" x2="473.7" y2="68.7" stroke="#555" stroke-width="1"/>
<text x="472.09999999999997" y="71.9" text-anchor="end" class="st">25</text>
<line x1="471.7" y1="51.1" x2="473.7" y2="51.1" stroke="#555" stroke-width="1"/>
<text x="472.09999999999997" y="54.3" text-anchor="end" class="st">30</text>
<line x1="471.7" y1="33.5" x2="473.7" y2="33.5" stroke="#555" stroke-width="1"/>
<text x="472.09999999999997" y="36.7" text-anchor="end" class="st">35</text>
<line x1="471.7" y1="15.9" x2="473.7" y2="15.9" stroke="#555" stroke-width="1"/>
<text x="472.09999999999997" y="19.1" text-anchor="end" class="st">40</text>
<circle cx="524.6" cy="112" r="1.45" fill="#ff8208"/>
<circle cx="524.6" cy="125.2" r="1.45" fill="#ff8208"/>
<circle cx="524.6" cy="134.9" r="1.45" fill="#ff8208"/>
<circle cx="524.6" cy="152.1" r="1.45" fill="#ff8208"/>
<circle cx="524.6" cy="162.8" r="1.45" fill="#ff8208"/>
<circle cx="524.6" cy="174.4" r="1.45" fill="#ff8208"/>
<circle cx="524.6" cy="175.7" r="1.45" fill="#ff8208"/>
<circle cx="524.6" cy="177" r="1.45" fill="#ff8208"/>
<circle cx="524.6" cy="178.3" r="1.45" fill="#ff8208"/>
<circle cx="524.6" cy="179.6" r="1.45" fill="#ff8208"/>
<circle cx="524.6" cy="180.9" r="1.45" fill="#ff8208"/>
<circle cx="524.6" cy="182.2" r="1.45" fill="#ff8208"/>
<circle cx="524.6" cy="183.5" r="1.45" fill="#ff8208"/>
<circle cx="524.6" cy="184.8" r="1.45" fill="#ff8208"/>
<circle cx="524.6" cy="186.1" r="1.45" fill="#ff8208"/>
<circle cx="524.6" cy="187.4" r="1.45" fill="#ff8208"/>
<circle cx="524.6" cy="188.7" r="1.45" fill="#ff8208"/>
<circle cx="524.6" cy="190" r="1.45" fill="#ff8208"/>
<circle cx="524.6" cy="191.3" r="1.45" fill="#ff8208"/>
<circle cx="524.6" cy="192.6" r="1.45" fill="#ff8208"/>
<circle cx="524.6" cy="193.9" r="1.45" fill="#ff8208"/>
<circle cx="524.6" cy="195.2" r="1.45" fill="#ff8208"/>
<circle cx="524.6" cy="196.5" r="1.45" fill="#ff8208"/>
<circle cx="524.6" cy="200.1" r="1.45" fill="#ff8208"/>
<circle cx="524.6" cy="201.4" r="1.45" fill="#ff8208"/>
<circle cx="524.6" cy="202.7" r="1.45" fill="#ff8208"/>
<circle cx="524.6" cy="204" r="1.45" fill="#ff8208"/>
<circle cx="524.6" cy="205.3" r="1.45" fill="#ff8208"/>
<circle cx="524.6" cy="206.6" r="1.45" fill="#ff8208"/>
<circle cx="524.6" cy="207.9" r="1.45" fill="#ff8208"/>
<circle cx="524.6" cy="209.2" r="1.45" fill="#ff8208"/>
<circle cx="524.6" cy="210.5" r="1.45" fill="#ff8208"/>
<circle cx="524.6" cy="211.8" r="1.45" fill="#ff8208"/>
<circle cx="524.6" cy="213.1" r="1.45" fill="#ff8208"/>
<circle cx="524.6" cy="218.6" r="1.45" fill="#ff8208"/>
<circle cx="524.6" cy="220.3" r="1.45" fill="#ff8208"/>
<circle cx="524.6" cy="222.1" r="1.45" fill="#ff8208"/>
<circle cx="524.6" cy="225.5" r="1.45" fill="#ff8208"/>
<circle cx="524.6" cy="233.8" r="1.45" fill="#ff8208"/>
<circle cx="625.9" cy="19.4" r="1.45" fill="#ff8208"/>
<circle cx="625.9" cy="62.6" r="1.45" fill="#ff8208"/>
<circle cx="625.9" cy="74" r="1.45" fill="#ff8208"/>
<circle cx="625.9" cy="76.2" r="1.45" fill="#ff8208"/>
<circle cx="625.9" cy="79.9" r="1.45" fill="#ff8208"/>
<circle cx="625.9" cy="80.7" r="1.45" fill="#ff8208"/>
<circle cx="625.9" cy="84.4" r="1.45" fill="#ff8208"/>
<circle cx="625.9" cy="88.1" r="1.45" fill="#ff8208"/>
<circle cx="625.9" cy="90.3" r="1.45" fill="#ff8208"/>
<circle cx="625.9" cy="94.7" r="1.45" fill="#ff8208"/>
<circle cx="625.9" cy="96.2" r="1.45" fill="#ff8208"/>
<circle cx="625.9" cy="99.9" r="1.45" fill="#ff8208"/>
<circle cx="625.9" cy="102.8" r="1.45" fill="#ff8208"/>
<circle cx="625.9" cy="104.3" r="1.45" fill="#ff8208"/>
<circle cx="625.9" cy="106.5" r="1.45" fill="#ff8208"/>
<circle cx="625.9" cy="112.4" r="1.45" fill="#ff8208"/>
<circle cx="625.9" cy="115.3" r="1.45" fill="#ff8208"/>
<circle cx="625.9" cy="117.2" r="1.45" fill="#ff8208"/>
<circle cx="625.9" cy="119" r="1.45" fill="#ff8208"/>
<circle cx="625.9" cy="120.4" r="1.45" fill="#ff8208"/>
<circle cx="625.9" cy="121.9" r="1.45" fill="#ff8208"/>
<circle cx="625.9" cy="124.1" r="1.45" fill="#ff8208"/>
<circle cx="625.9" cy="125.6" r="1.45" fill="#ff8208"/>
<circle cx="625.9" cy="127.1" r="1.45" fill="#ff8208"/>
<circle cx="625.9" cy="129.3" r="1.45" fill="#ff8208"/>
<circle cx="625.9" cy="130.7" r="1.45" fill="#ff8208"/>
<circle cx="625.9" cy="132.9" r="1.45" fill="#ff8208"/>
<circle cx="625.9" cy="135.1" r="1.45" fill="#ff8208"/>
<circle cx="625.9" cy="141" r="1.45" fill="#ff8208"/>
<circle cx="625.9" cy="143.2" r="1.45" fill="#ff8208"/>
<circle cx="625.9" cy="148.4" r="1.45" fill="#ff8208"/>
<circle cx="625.9" cy="152" r="1.45" fill="#ff8208"/>
<circle cx="625.9" cy="155" r="1.45" fill="#ff8208"/>
<text x="524.6" y="263" text-anchor="middle" class="cat">&lt; 10% <tspan class="d">&#916;</tspan> SV</text>
<text x="625.2" y="263" text-anchor="middle" class="cat">&gt; 10% <tspan class="d">&#916;</tspan> SV</text>
<text transform="translate(451,136.2) rotate(-90) scale(0.97,1)" text-anchor="middle" class="lab">% <tspan class="d">&#916;</tspan> Wodey</text>
<line x1="473.7" y1="510.3" x2="679.3" y2="510.3" stroke="#f5f5f5" stroke-width="1"/>
<line x1="473.7" y1="494.2" x2="679.3" y2="494.2" stroke="#f5f5f5" stroke-width="1"/>
<line x1="473.7" y1="478.1" x2="679.3" y2="478.1" stroke="#f5f5f5" stroke-width="1"/>
<line x1="473.7" y1="462" x2="679.3" y2="462" stroke="#f5f5f5" stroke-width="1"/>
<line x1="473.7" y1="445.9" x2="679.3" y2="445.9" stroke="#f5f5f5" stroke-width="1"/>
<line x1="473.7" y1="429.8" x2="679.3" y2="429.8" stroke="#d0d0d0" stroke-width="1"/>
<line x1="473.7" y1="413.7" x2="679.3" y2="413.7" stroke="#f5f5f5" stroke-width="1"/>
<line x1="473.7" y1="397.6" x2="679.3" y2="397.6" stroke="#f5f5f5" stroke-width="1"/>
<line x1="473.7" y1="381.5" x2="679.3" y2="381.5" stroke="#f5f5f5" stroke-width="1"/>
<line x1="473.7" y1="365.4" x2="679.3" y2="365.4" stroke="#f5f5f5" stroke-width="1"/>
<line x1="473.7" y1="349.3" x2="679.3" y2="349.3" stroke="#f5f5f5" stroke-width="1"/>
<line x1="473.7" y1="333.2" x2="679.3" y2="333.2" stroke="#f5f5f5" stroke-width="1"/>
<line x1="473.7" y1="317.1" x2="679.3" y2="317.1" stroke="#f5f5f5" stroke-width="1"/>
<line x1="473.7" y1="301" x2="679.3" y2="301" stroke="#f5f5f5" stroke-width="1"/>
<line x1="473.7" y1="284.9" x2="679.3" y2="284.9" stroke="#f5f5f5" stroke-width="1"/>
<line x1="473.7" y1="420.14" x2="679.3" y2="420.14" stroke="#8a8a8a" stroke-width="1" stroke-dasharray="2.6,1.15"/>
<text x="475.0" y="418.04" class="cut">3% Cutoff</text>
<line x1="473.7" y1="272.9" x2="473.7" y2="520.4" stroke="#7a7a7a" stroke-width="1.1"/>
<line x1="473.7" y1="520.4" x2="679.3" y2="520.4" stroke="#7a7a7a" stroke-width="1.1"/>
<line x1="576.5" y1="520.4" x2="576.5" y2="521.9" stroke="#7a7a7a" stroke-width="1"/>
<line x1="679.3" y1="520.4" x2="679.3" y2="521.9" stroke="#7a7a7a" stroke-width="1"/>
<line x1="471.7" y1="510.3" x2="473.7" y2="510.3" stroke="#555" stroke-width="1"/>
<text x="471.09999999999997" y="513.5" text-anchor="end" class="st">-25</text>
<line x1="471.7" y1="494.2" x2="473.7" y2="494.2" stroke="#555" stroke-width="1"/>
<text x="471.09999999999997" y="497.4" text-anchor="end" class="st">-20</text>
<line x1="471.7" y1="478.1" x2="473.7" y2="478.1" stroke="#555" stroke-width="1"/>
<text x="471.09999999999997" y="481.3" text-anchor="end" class="st">-15</text>
<line x1="471.7" y1="462" x2="473.7" y2="462" stroke="#555" stroke-width="1"/>
<text x="471.09999999999997" y="465.2" text-anchor="end" class="st">-10</text>
<line x1="471.7" y1="445.9" x2="473.7" y2="445.9" stroke="#555" stroke-width="1"/>
<text x="471.09999999999997" y="449.1" text-anchor="end" class="st">-5</text>
<line x1="471.7" y1="429.8" x2="473.7" y2="429.8" stroke="#555" stroke-width="1"/>
<text x="471.09999999999997" y="433" text-anchor="end" class="st">0</text>
<line x1="471.7" y1="413.7" x2="473.7" y2="413.7" stroke="#555" stroke-width="1"/>
<text x="471.09999999999997" y="416.9" text-anchor="end" class="st">5</text>
<line x1="471.7" y1="397.6" x2="473.7" y2="397.6" stroke="#555" stroke-width="1"/>
<text x="471.09999999999997" y="400.8" text-anchor="end" class="st">10</text>
<line x1="471.7" y1="381.5" x2="473.7" y2="381.5" stroke="#555" stroke-width="1"/>
<text x="471.09999999999997" y="384.7" text-anchor="end" class="st">15</text>
<line x1="471.7" y1="365.4" x2="473.7" y2="365.4" stroke="#555" stroke-width="1"/>
<text x="471.09999999999997" y="368.6" text-anchor="end" class="st">20</text>
<line x1="471.7" y1="349.3" x2="473.7" y2="349.3" stroke="#555" stroke-width="1"/>
<text x="471.09999999999997" y="352.5" text-anchor="end" class="st">25</text>
<line x1="471.7" y1="333.2" x2="473.7" y2="333.2" stroke="#555" stroke-width="1"/>
<text x="471.09999999999997" y="336.4" text-anchor="end" class="st">30</text>
<line x1="471.7" y1="317.1" x2="473.7" y2="317.1" stroke="#555" stroke-width="1"/>
<text x="471.09999999999997" y="320.3" text-anchor="end" class="st">35</text>
<line x1="471.7" y1="301" x2="473.7" y2="301" stroke="#555" stroke-width="1"/>
<text x="471.09999999999997" y="304.2" text-anchor="end" class="st">40</text>
<line x1="471.7" y1="284.9" x2="473.7" y2="284.9" stroke="#555" stroke-width="1"/>
<text x="471.09999999999997" y="288.1" text-anchor="end" class="st">45</text>
<circle cx="525.1" cy="392.5" r="1.45" fill="#ff8208"/>
<circle cx="525.1" cy="399.4" r="1.45" fill="#ff8208"/>
<circle cx="525.1" cy="404" r="1.45" fill="#ff8208"/>
<circle cx="525.1" cy="405.3" r="1.45" fill="#ff8208"/>
<circle cx="525.1" cy="423.1" r="1.45" fill="#ff8208"/>
<circle cx="525.1" cy="436.6" r="1.45" fill="#ff8208"/>
<circle cx="525.1" cy="440" r="1.45" fill="#ff8208"/>
<circle cx="525.1" cy="444" r="1.45" fill="#ff8208"/>
<circle cx="525.1" cy="446.6" r="1.45" fill="#ff8208"/>
<circle cx="525.1" cy="447.9" r="1.45" fill="#ff8208"/>
<circle cx="525.1" cy="449.2" r="1.45" fill="#ff8208"/>
<circle cx="525.1" cy="450.5" r="1.45" fill="#ff8208"/>
<circle cx="525.1" cy="451.8" r="1.45" fill="#ff8208"/>
<circle cx="525.1" cy="453.1" r="1.45" fill="#ff8208"/>
<circle cx="525.1" cy="454.4" r="1.45" fill="#ff8208"/>
<circle cx="525.1" cy="455.7" r="1.45" fill="#ff8208"/>
<circle cx="525.1" cy="457" r="1.45" fill="#ff8208"/>
<circle cx="525.1" cy="458.3" r="1.45" fill="#ff8208"/>
<circle cx="525.1" cy="459.6" r="1.45" fill="#ff8208"/>
<circle cx="525.1" cy="460.9" r="1.45" fill="#ff8208"/>
<circle cx="525.1" cy="462.2" r="1.45" fill="#ff8208"/>
<circle cx="525.1" cy="463.5" r="1.45" fill="#ff8208"/>
<circle cx="525.1" cy="464.8" r="1.45" fill="#ff8208"/>
<circle cx="525.1" cy="466.1" r="1.45" fill="#ff8208"/>
<circle cx="525.1" cy="467.4" r="1.45" fill="#ff8208"/>
<circle cx="525.1" cy="468.7" r="1.45" fill="#ff8208"/>
<circle cx="525.1" cy="470" r="1.45" fill="#ff8208"/>
<circle cx="525.1" cy="471.3" r="1.45" fill="#ff8208"/>
<circle cx="525.1" cy="472.6" r="1.45" fill="#ff8208"/>
<circle cx="525.1" cy="473.9" r="1.45" fill="#ff8208"/>
<circle cx="525.1" cy="475.2" r="1.45" fill="#ff8208"/>
<circle cx="525.1" cy="476.5" r="1.45" fill="#ff8208"/>
<circle cx="525.1" cy="477.8" r="1.45" fill="#ff8208"/>
<circle cx="525.1" cy="479.1" r="1.45" fill="#ff8208"/>
<circle cx="525.1" cy="480.4" r="1.45" fill="#ff8208"/>
<circle cx="525.1" cy="481.7" r="1.45" fill="#ff8208"/>
<circle cx="525.1" cy="483" r="1.45" fill="#ff8208"/>
<circle cx="525.1" cy="486.3" r="1.45" fill="#ff8208"/>
<circle cx="525.1" cy="487.8" r="1.45" fill="#ff8208"/>
<circle cx="525.1" cy="489.3" r="1.45" fill="#ff8208"/>
<circle cx="525.1" cy="495.9" r="1.45" fill="#ff8208"/>
<circle cx="525.1" cy="497.4" r="1.45" fill="#ff8208"/>
<circle cx="525.1" cy="498.8" r="1.45" fill="#ff8208"/>
<circle cx="525.1" cy="507.6" r="1.45" fill="#ff8208"/>
<circle cx="628.2" cy="285.3" r="1.45" fill="#ff8208"/>
<circle cx="628.2" cy="330.1" r="1.45" fill="#ff8208"/>
<circle cx="628.2" cy="347.8" r="1.45" fill="#ff8208"/>
<circle cx="628.2" cy="354.4" r="1.45" fill="#ff8208"/>
<circle cx="628.2" cy="356.3" r="1.45" fill="#ff8208"/>
<circle cx="628.2" cy="365.8" r="1.45" fill="#ff8208"/>
<circle cx="628.2" cy="368.6" r="1.45" fill="#ff8208"/>
<circle cx="628.2" cy="370.7" r="1.45" fill="#ff8208"/>
<circle cx="628.2" cy="372.4" r="1.45" fill="#ff8208"/>
<circle cx="628.2" cy="374" r="1.45" fill="#ff8208"/>
<circle cx="628.2" cy="375.7" r="1.45" fill="#ff8208"/>
<circle cx="628.2" cy="378.2" r="1.45" fill="#ff8208"/>
<circle cx="628.2" cy="379.9" r="1.45" fill="#ff8208"/>
<circle cx="628.2" cy="381.8" r="1.45" fill="#ff8208"/>
<circle cx="628.2" cy="385.2" r="1.45" fill="#ff8208"/>
<circle cx="628.2" cy="390.6" r="1.45" fill="#ff8208"/>
<circle cx="628.2" cy="392.3" r="1.45" fill="#ff8208"/>
<circle cx="628.2" cy="394" r="1.45" fill="#ff8208"/>
<circle cx="628.2" cy="395.6" r="1.45" fill="#ff8208"/>
<circle cx="628.2" cy="397.3" r="1.45" fill="#ff8208"/>
<circle cx="628.2" cy="399" r="1.45" fill="#ff8208"/>
<circle cx="628.2" cy="400.6" r="1.45" fill="#ff8208"/>
<circle cx="628.2" cy="402.2" r="1.45" fill="#ff8208"/>
<circle cx="628.2" cy="403.9" r="1.45" fill="#ff8208"/>
<circle cx="628.2" cy="407.2" r="1.45" fill="#ff8208"/>
<circle cx="628.2" cy="408.9" r="1.45" fill="#ff8208"/>
<circle cx="628.2" cy="416" r="1.45" fill="#ff8208"/>
<circle cx="628.2" cy="417.7" r="1.45" fill="#ff8208"/>
<circle cx="628.2" cy="423.8" r="1.45" fill="#ff8208"/>
<circle cx="628.2" cy="428.4" r="1.45" fill="#ff8208"/>
<circle cx="628.2" cy="435.4" r="1.45" fill="#ff8208"/>
<text x="525.1" y="536.3" text-anchor="middle" class="cat">&lt; 10% <tspan class="d">&#916;</tspan> SV</text>
<text x="625.5" y="536.3" text-anchor="middle" class="cat">&gt; 10% <tspan class="d">&#916;</tspan> SV</text>
<text transform="translate(453,392.3) rotate(-90) scale(0.97,1)" text-anchor="middle" class="lab">% <tspan class="d">&#916;</tspan> Bazett</text>
<rect x="394" y="287" width="1.6" height="1.2" fill="#d8d8d8"/>
</svg></body></html>
